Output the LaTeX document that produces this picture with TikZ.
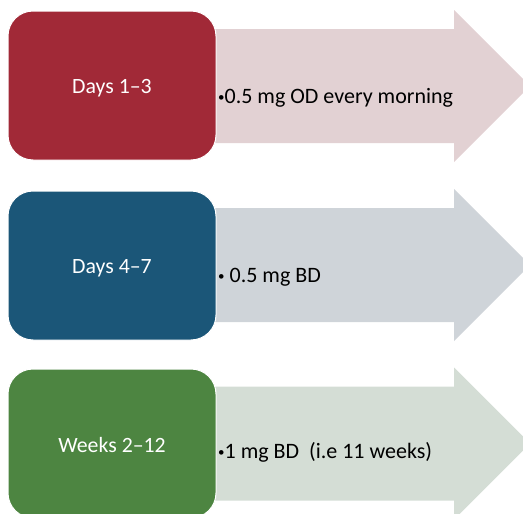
\documentclass[tikz,border=0pt]{standalone}
\usepackage{fontspec}
\setmainfont{Carlito}
\definecolor{boxA}{RGB}{161,41,55}
\definecolor{boxB}{RGB}{27,86,120}
\definecolor{boxC}{RGB}{77,133,65}
\definecolor{arrA}{RGB}{226,209,211}
\definecolor{arrB}{RGB}{207,212,217}
\definecolor{arrC}{RGB}{212,221,213}
\newcommand{\smallbul}{\raisebox{2pt}{\fontsize{13}{13}\selectfont •}}
\begin{document}
\begin{tikzpicture}[x=1pt,y=-1pt,
  stagebox/.style={rectangle,rounded corners=25pt,draw=white,line width=1pt,
    minimum width=208pt,minimum height=149pt,inner sep=0pt},
  stagelabel/.style={text=white,font=\fontsize{21.8}{26}\selectfont,anchor=base,inner sep=0pt},
  doselabel/.style={text=black,font=\fontsize{22}{26}\selectfont,anchor=base west,inner sep=0pt},
  bigarrow/.style={draw=none}]
\useasboundingbox (0,0) rectangle (523,514);
\clip (0,0) rectangle (523,514);
% arrows
\foreach \cy/\col in {86/arrA,265/arrB,443.5/arrC}{
  \fill[\col] (200,\cy-57) -- (454,\cy-57) -- (454,\cy-76) -- (530,\cy) -- (454,\cy+76) -- (454,\cy+57) -- (200,\cy+57) -- cycle;
}
% boxes
\node[stagebox,fill=boxA] (b1) at (112,85.5) {};
\node[stagebox,fill=boxB] (b2) at (112,265.5) {};
\node[stagebox,fill=boxC] (b3) at (112,443.5) {};
\node[stagelabel] (l1) at (112,93) {Days 1–3};
\node[stagelabel] (l2) at (112,273) {Days 4–7};
\node[stagelabel] (l3) at (112,452) {Weeks 2–12};
\node[doselabel] (d1) at (218,103) {\smallbul0.5 mg OD every morning};
\node[doselabel] (d2) at (218,282) {\smallbul\ 0.5 mg BD};
\node[doselabel] (d3) at (218,458) {\smallbul1 mg BD\ \ (i.e 11 weeks)};
\end{tikzpicture}
\end{document}
